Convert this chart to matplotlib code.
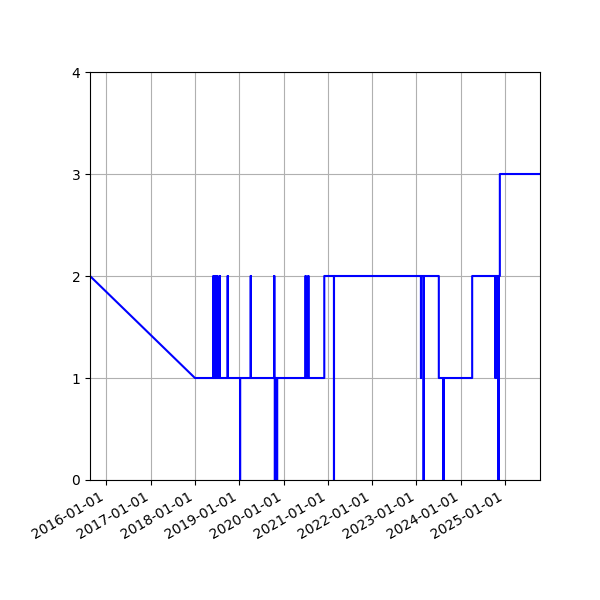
import numpy as np
import pandas as pd
import matplotlib
matplotlib.use('Agg')
import matplotlib.pyplot as plt
import matplotlib.dates as mdates

# Lecturas (fecha, valor); fechas repetidas dan los saltos verticales
fechas = [
    '2015-08-20', '2018-01-01',
    '2018-06-03', '2018-06-03', '2018-06-03',
    '2018-06-18', '2018-06-18', '2018-06-18',
    '2018-07-05', '2018-07-05', '2018-07-05',
    '2018-07-25', '2018-07-25', '2018-07-25',
    '2018-09-28', '2018-09-28', '2018-09-28',
    '2019-01-08', '2019-01-08', '2019-01-08',
    '2019-04-06', '2019-04-06', '2019-04-06',
    '2019-10-17', '2019-10-17', '2019-10-17',
    '2019-10-22', '2019-10-22', '2019-10-22',
    '2019-10-31', '2019-10-31', '2019-10-31',
    '2019-11-09', '2019-11-09', '2019-11-09',
    '2020-07-01', '2020-07-01', '2020-07-01',
    '2020-07-24', '2020-07-24', '2020-07-24',
    '2020-12-02', '2020-12-02',
    '2021-02-20', '2021-02-20', '2021-02-20',
    '2023-02-07', '2023-02-07', '2023-02-07',
    '2023-03-01', '2023-03-01', '2023-03-01',
    '2023-07-04', '2023-07-04',
    '2023-08-12', '2023-08-12', '2023-08-12',
    '2024-04-04', '2024-04-04',
    '2024-10-13', '2024-10-13', '2024-10-13',
    '2024-10-24', '2024-10-24', '2024-10-24',
    '2024-11-07', '2024-11-07', '2024-11-07',
    '2024-11-18', '2024-11-18',
    '2025-10-15',
]
valores = [
    2, 1,
    1, 2, 1,
    1, 2, 1,
    1, 2, 1,
    1, 2, 1,
    1, 2, 1,
    1, 0, 1,
    1, 2, 1,
    1, 2, 1,
    1, 0, 1,
    1, 0, 1,
    1, 0, 1,
    1, 2, 1,
    1, 2, 1,
    1, 2,
    2, 0, 2,
    2, 1, 2,
    2, 0, 2,
    2, 1,
    1, 0, 1,
    1, 2,
    2, 1, 2,
    2, 1, 2,
    2, 0, 2,
    2, 3,
    3,
]

x = pd.to_datetime(fechas)
y = np.array(valores)

fig, ax = plt.subplots(figsize=(6, 6), dpi=100)
ax.plot(x, y, color='blue', linewidth=1.5)
ax.set_xlim(x.min(), x.max())
ax.set_ylim(0, 4)
ax.set_yticks([0, 1, 2, 3, 4])
ax.xaxis.set_major_locator(mdates.YearLocator())
ax.xaxis.set_major_formatter(mdates.DateFormatter('%Y-%m-%d'))
ax.grid(True)
fig.autofmt_xdate()
fig.subplots_adjust(left=0.15, right=0.9, top=0.88, bottom=0.2)
fig.savefig('out.png', dpi=100)
